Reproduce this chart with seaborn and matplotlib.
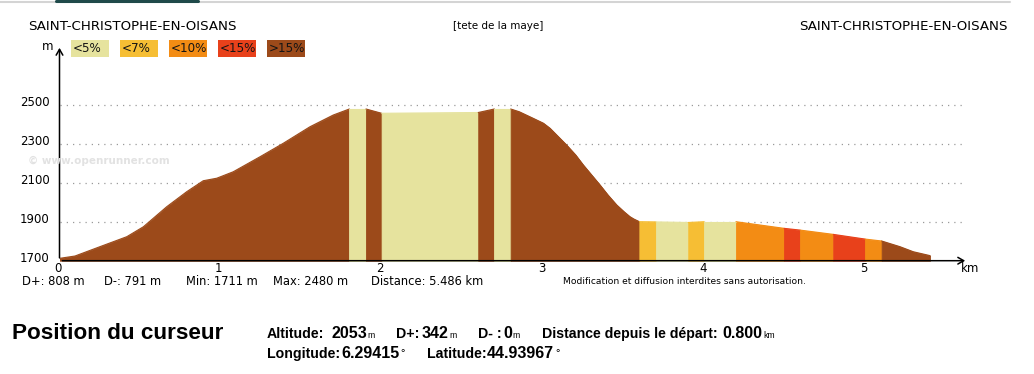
import numpy as np
import matplotlib
matplotlib.use("Agg")
import matplotlib.pyplot as plt
import seaborn as sns
from matplotlib.patches import Rectangle
from matplotlib.lines import Line2D
from matplotlib.transforms import ScaledTranslation
from matplotlib import font_manager

# ---------------- data ----------------
dist_km = [0.0, 0.096, 0.251, 0.417, 0.520, 0.665, 0.789, 0.891, 0.975, 1.077,
           1.243, 1.387, 1.553, 1.697, 1.797, 1.900, 1.997, 2.297, 2.596, 2.696,
           2.797, 2.850, 2.937, 3.000, 3.041, 3.144, 3.200, 3.247, 3.351, 3.400,
           3.454, 3.500, 3.536, 3.560, 3.595, 3.698, 3.898, 3.996, 4.194, 4.492,
           4.591, 4.797, 4.994, 5.097, 5.210, 5.293, 5.397]
alt_m = [1712, 1724, 1772, 1823, 1874, 1977, 2054, 2110, 2123, 2156,
         2233, 2302, 2387, 2447, 2478, 2478, 2456, 2458, 2460, 2478,
         2478, 2464, 2430, 2405, 2379, 2293, 2242, 2191, 2088, 2037,
         1986, 1951, 1926, 1914, 1900, 1899, 1896, 1900, 1900, 1866,
         1857, 1835, 1811, 1801, 1772, 1746, 1726]

seg_edges_km = [0.0, 1.797, 1.900, 1.997, 2.596, 2.696, 2.797, 3.595, 3.698,
                3.898, 3.996, 4.194, 4.492, 4.591, 4.797, 4.994, 5.097, 5.397]
seg_class = ['>15%', '<5%', '>15%', '<5%', '>15%', '<5%', '>15%', '<7%', '<5%',
             '<7%', '<5%', '<10%', '<15%', '<10%', '<15%', '<10%', '>15%']

classes = ['<5%', '<7%', '<10%', '<15%', '>15%']
class_colors = ['#E6E39E', '#F6BE34', '#F38C14', '#E8411B', '#9C4A1A']

x_ticks = [0, 1, 2, 3, 4, 5]
y_ticks = [1700, 1900, 2100, 2300, 2500]
grid_levels = [1900, 2100, 2300, 2500]

start_name = 'SAINT-CHRISTOPHE-EN-OISANS'
end_name = 'SAINT-CHRISTOPHE-EN-OISANS'
route_name = '[tete de la maye]'
stats_labels = ['D+: 808 m', 'D-: 791 m', 'Min: 1711 m', 'Max: 2480 m', 'Distance: 5.486 km']
notice = 'Modification et diffusion interdites sans autorisation.'
watermark = '\u00a9 www.openrunner.com'

cursor_title = 'Position du curseur'
cursor_line1 = [('Altitude:', '2053', 'm'), ('D+:', '342', 'm'), ('D- :', '0', 'm'),
                ('Distance depuis le d\u00e9part:', '0.800', 'km')]
cursor_line2 = [('Longitude:', '6.29415', '\u00b0'), ('Latitude:', '44.93967', '\u00b0')]

# ---------------- figure ----------------
sns.set_theme(style="white")
plt.rcParams['font.family'] = ['DejaVu Sans']
plt.rcParams['text.color'] = 'black'
plt.rcParams['xtick.color'] = 'black'
plt.rcParams['ytick.color'] = 'black'

installed = {f.name for f in font_manager.fontManager.ttflist}
narrow_ok = 'Liberation Sans Narrow' in installed
num_family = 'Liberation Sans Narrow' if narrow_ok else 'Liberation Sans'
num_size = 12.5 if narrow_ok else 11.5

W, H = 1034, 374
fig = plt.figure(figsize=(W / 100, H / 100), dpi=100)
fig.patch.set_facecolor('white')


def fx(px):
    return px / W


def fy(py):
    return 1 - py / H


x0_px, xend_px, ybase_px, ytop_px = 59.5, 968.0, 260.7, 45.0
px_per_km = 161.3
px_per_m = 0.195
ax = fig.add_axes([fx(x0_px), fy(ybase_px), (xend_px - x0_px) / W, (ybase_px - ytop_px) / H])
ax.set_facecolor('none')

d = np.asarray(dist_km, dtype=float)
a = np.asarray(alt_m, dtype=float)
color_of = dict(zip(classes, class_colors))

# grid
ax.hlines(grid_levels, 0, (963 - x0_px) / px_per_km, colors='#9a9a9a',
          linestyles=(0, (1, 4)), linewidth=0.9, zorder=1)

# profile segments
for s, e, c in zip(seg_edges_km[:-1], seg_edges_km[1:], seg_class):
    m = (d >= s - 1e-9) & (d <= e + 1e-9)
    col = color_of[c]
    ax.fill_between(d[m], 1700, a[m], color=col, linewidth=0.6, edgecolor=col, zorder=2)
    sns.lineplot(x=d[m], y=a[m], ax=ax, color=col, linewidth=0.8, legend=False,
                 estimator=None, sort=False, zorder=3)

ax.set_xlim(0, (xend_px - x0_px) / px_per_km)
ax.set_ylim(1700, 1700 + (ybase_px - ytop_px) / px_per_m)
ax.set_xlabel('')
ax.set_ylabel('')
for sp in ax.spines.values():
    sp.set_visible(False)

ax.set_xticks(x_ticks)
ax.set_xticklabels([str(t) for t in x_ticks])
ax.set_yticks(y_ticks)
ax.set_yticklabels([str(t) for t in y_ticks])
ax.tick_params(axis='x', length=0, pad=1.0, labelsize=8.5, colors='black')
ax.tick_params(axis='y', length=0, pad=7.0, labelsize=8.5, colors='black')
for t in ax.yaxis.get_major_ticks():
    t.label1.set_transform(t.label1.get_transform() + ScaledTranslation(0, 4 / 100, fig.dpi_scale_trans))
for t in ax.xaxis.get_major_ticks():
    t.label1.set_transform(t.label1.get_transform() + ScaledTranslation(-2 / 100, 0, fig.dpi_scale_trans))

# axis arrows
ax.annotate('', xy=(0, 1), xytext=(0, 0), xycoords='axes fraction',
            arrowprops=dict(arrowstyle='->,head_length=0.35,head_width=0.2', lw=1.1, color='black'),
            annotation_clip=False, zorder=5)
ax.annotate('', xy=(1, 0), xytext=(0, 0), xycoords='axes fraction',
            arrowprops=dict(arrowstyle='->,head_length=0.35,head_width=0.2', lw=1.1, color='black'),
            annotation_clip=False, zorder=5)

fig.text(fx(970), fy(268), 'km', fontsize=8.5, ha='center', va='center')
fig.text(fx(48), fy(46), 'm', fontsize=8.5, ha='center', va='center')

# watermark
fig.text(fx(28), fy(161), watermark, fontsize=7.5, color='#e2e2e2', ha='left', va='center',
         fontweight='bold')

# titles
fig.text(fx(28), fy(26), start_name, fontsize=9.6, ha='left', va='center')
fig.text(fx(1008), fy(26), end_name, fontsize=9.6, ha='right', va='center')
fig.text(fx(498), fy(26), route_name, fontsize=7.5, ha='center', va='center')

# legend boxes
for i, (cls, col) in enumerate(zip(classes, class_colors)):
    bx = 70.7 + i * 49.1
    fig.add_artist(Rectangle((fx(bx), fy(57.3)), 38 / W, 17.3 / H, transform=fig.transFigure,
                             facecolor=col, edgecolor='none'))
    fig.text(fx(bx + 2.0), fy(48.8), cls, fontsize=8.6, ha='left', va='center', color='#141414')

# stats line
stats_x = [22, 104, 186, 273, 371]
for lab, sx in zip(stats_labels, stats_x):
    fig.text(fx(sx), fy(281.5), lab, fontsize=8.3, ha='left', va='center')
fig.text(fx(563), fy(281.5), notice, fontsize=6.6, ha='left', va='center')

# top decorative rule
fig.add_artist(Line2D([0, fx(1010)], [fy(1.5), fy(1.5)], color='#d4d4d4', lw=1.5,
                      transform=fig.transFigure))
fig.add_artist(Line2D([fx(56), fx(198)], [fy(1.2), fy(1.2)], color='#1f4a4a', lw=2.2,
                      transform=fig.transFigure))

# cursor block
fig.text(fx(12), fy(338.7), cursor_title, fontsize=16.2, fontweight='bold',
         family='Liberation Sans', ha='left', va='baseline', color='black')

lab_kw = dict(fontsize=10.2, fontweight='bold', family='Liberation Sans', ha='left',
              va='baseline', color='black')
num_kw = dict(fontsize=num_size, fontweight='bold', family=num_family, ha='left',
              va='baseline', color='black')
unit_kw = dict(fontsize=6.2, family='Liberation Sans', ha='left', va='baseline', color='black')

renderer = fig.canvas.get_renderer()

line1_x = [(267, 331), (396, 422), (478, 503), (542, 722)]
for (lab, num, unit), (lx, nx) in zip(cursor_line1, line1_x):
    fig.text(fx(lx), fy(338.3), lab, **lab_kw)
    tn = fig.text(fx(nx), fy(338.3), num, **num_kw)
    right = tn.get_window_extent(renderer).x1
    fig.text((right + 1) / W, fy(338.3), unit, **unit_kw)

line2_x = [(267, 341), (427, 487)]
for (lab, num, unit), (lx, nx) in zip(cursor_line2, line2_x):
    fig.text(fx(lx), fy(358.3), lab, **lab_kw)
    tn = fig.text(fx(nx), fy(358.3), num, **num_kw)
    right = tn.get_window_extent(renderer).x1
    fig.text((right + 1.5) / W, fy(356.0), unit, fontsize=8, family='Liberation Sans',
             ha='left', va='baseline', color='black')

fig.savefig('out.png', dpi=100, facecolor='white')
